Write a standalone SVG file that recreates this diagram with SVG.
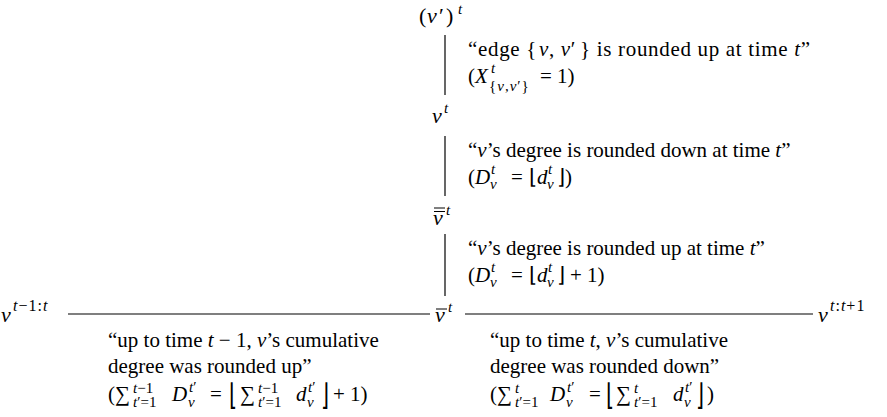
<svg xmlns="http://www.w3.org/2000/svg" width="887" height="417" viewBox="0 0 887 417" font-family="'Liberation Serif', 'Times New Roman', serif">
<style>
  text { font-size: 21px; fill: #000; }
  .i { font-style: italic; }
  .s { font-size: 15px; }
  .m { font-size: 22px; }
  .ns { font-size: 16px; letter-spacing: 1px; }
  .conn { stroke: #000; stroke-width: 1.2; fill: none; }
  .bar { stroke: #000; stroke-width: 1; fill: none; }
</style>
<rect width="887" height="417" fill="#fff"/>

<g id="connectors">
  <line class="conn" x1="445" y1="35" x2="445" y2="95"/>
  <line class="conn" x1="445" y1="136" x2="445" y2="196"/>
  <line class="conn" x1="445" y1="234" x2="445" y2="296"/>
  <line class="conn" x1="68" y1="314" x2="430" y2="314"/>
  <line class="conn" x1="465" y1="314" x2="813" y2="314"/>
</g>

<g id="node-vprime-t">
  <text class="m" y="23"><tspan x="419">(</tspan><tspan class="i" x="427">v</tspan><tspan x="439">′</tspan><tspan x="446">)</tspan><tspan class="i s" x="458" y="14">t</tspan></text>
</g>
<g id="node-v-t">
  <text class="m"><tspan class="i" x="432" y="123">v</tspan><tspan class="i s" x="444" y="113">t</tspan></text>
</g>
<g id="node-vbarbar-t">
  <text class="m"><tspan class="i" x="433" y="225">v</tspan><tspan class="i s" x="446" y="215">t</tspan></text>
  <path class="bar" d="M434 208 H445 M434 211.5 H445"/>
</g>
<g id="node-vbar-t">
  <text class="m"><tspan class="i" x="435" y="322">v</tspan><tspan class="i s" x="448" y="312">t</tspan></text>
  <path class="bar" d="M436 309 H447"/>
</g>
<g id="node-v-prev">
  <text class="m"><tspan class="i" x="1" y="322">v</tspan><tspan class="ns" x="13" y="311"><tspan class="i">t</tspan>−1:<tspan class="i">t</tspan></tspan></text>
</g>
<g id="node-v-next">
  <text class="m"><tspan class="i" x="818" y="322">v</tspan><tspan class="ns" x="830" y="311"><tspan class="i">t</tspan>:<tspan class="i">t</tspan>+1</tspan></text>
</g>

<g id="label-edge">
  <text x="468" y="56" textLength="342" lengthAdjust="spacing">“edge {<tspan class="i" dx="2">v</tspan>, <tspan class="i">v</tspan>′<tspan dx="4">}</tspan> is rounded up at time <tspan class="i">t</tspan>”</text>
  <text><tspan x="468" y="83">(</tspan><tspan class="i" x="475">X</tspan><tspan class="i s" x="491" y="73">t</tspan><tspan class="s" x="489" y="91" letter-spacing="1">{<tspan class="i">v</tspan>,<tspan class="i">v</tspan>′}</tspan><tspan x="540" y="83">= 1)</tspan></text>
</g>

<g id="label-down">
  <text x="468" y="157">“<tspan class="i">v</tspan>’s degree is rounded down at time <tspan class="i">t</tspan>”</text>
  <text><tspan x="468" y="184">(</tspan><tspan class="i" x="475">D</tspan><tspan class="i s" x="491" y="174">t</tspan><tspan class="i s" x="490" y="189">v</tspan><tspan x="511" y="184">=</tspan><tspan x="529">⌊</tspan><tspan class="i" x="537">d</tspan><tspan class="i s" x="548" y="174">t</tspan><tspan class="i s" x="547" y="189">v</tspan><tspan x="557" y="184">⌋</tspan><tspan x="565">)</tspan></text>
</g>

<g id="label-up">
  <text x="468" y="255">“<tspan class="i">v</tspan>’s degree is rounded up at time <tspan class="i">t</tspan>”</text>
  <text><tspan x="468" y="282">(</tspan><tspan class="i" x="475">D</tspan><tspan class="i s" x="491" y="272">t</tspan><tspan class="i s" x="490" y="287">v</tspan><tspan x="511" y="282">=</tspan><tspan x="529">⌊</tspan><tspan class="i" x="537">d</tspan><tspan class="i s" x="548" y="272">t</tspan><tspan class="i s" x="547" y="287">v</tspan><tspan x="557" y="282">⌋</tspan><tspan x="570">+</tspan><tspan x="587">1)</tspan></text>
</g>

<g id="label-left">
  <text x="108" y="347">“up to time <tspan class="i">t</tspan> − 1, <tspan class="i">v</tspan>’s cumulative</text>
  <text x="108" y="373">degree was rounded up”</text>
  <text><tspan x="108" y="401">(</tspan><tspan x="115">∑</tspan><tspan class="s" x="133" y="393"><tspan class="i">t</tspan>−1</tspan><tspan class="s" x="133" y="407"><tspan class="i">t</tspan>′=1</tspan><tspan class="i" x="172" y="401">D</tspan><tspan class="s" x="189" y="392"><tspan class="i">t</tspan>′</tspan><tspan class="i s" x="188" y="407">v</tspan><tspan x="210" y="401">=</tspan><tspan x="240">∑</tspan><tspan class="s" x="258" y="393"><tspan class="i">t</tspan>−1</tspan><tspan class="s" x="258" y="407"><tspan class="i">t</tspan>′=1</tspan><tspan class="i" x="296" y="401">d</tspan><tspan class="s" x="308" y="392"><tspan class="i">t</tspan>′</tspan><tspan class="i s" x="307" y="407">v</tspan><tspan x="333" y="401">+ 1)</tspan></text>
  <text transform="translate(229,405) scale(1,1.45)">⌊</text>
  <text transform="translate(321,405) scale(1,1.45)">⌋</text>
</g>

<g id="label-right">
  <text x="490" y="347">“up to time <tspan class="i">t</tspan>, <tspan class="i">v</tspan>’s cumulative</text>
  <text x="490" y="373">degree was rounded down”</text>
  <text><tspan x="490" y="401">(</tspan><tspan x="497">∑</tspan><tspan class="i s" x="515" y="393">t</tspan><tspan class="s" x="515" y="407"><tspan class="i">t</tspan>′=1</tspan><tspan class="i" x="550" y="401">D</tspan><tspan class="s" x="567" y="392"><tspan class="i">t</tspan>′</tspan><tspan class="i s" x="566" y="407">v</tspan><tspan x="589" y="401">=</tspan><tspan x="616">∑</tspan><tspan class="i s" x="634" y="393">t</tspan><tspan class="s" x="634" y="407"><tspan class="i">t</tspan>′=1</tspan><tspan class="i" x="673" y="401">d</tspan><tspan class="s" x="685" y="392"><tspan class="i">t</tspan>′</tspan><tspan class="i s" x="684" y="407">v</tspan><tspan x="707" y="401">)</tspan></text>
  <text transform="translate(606,405) scale(1,1.45)">⌊</text>
  <text transform="translate(696,405) scale(1,1.45)">⌋</text>
</g>
</svg>
